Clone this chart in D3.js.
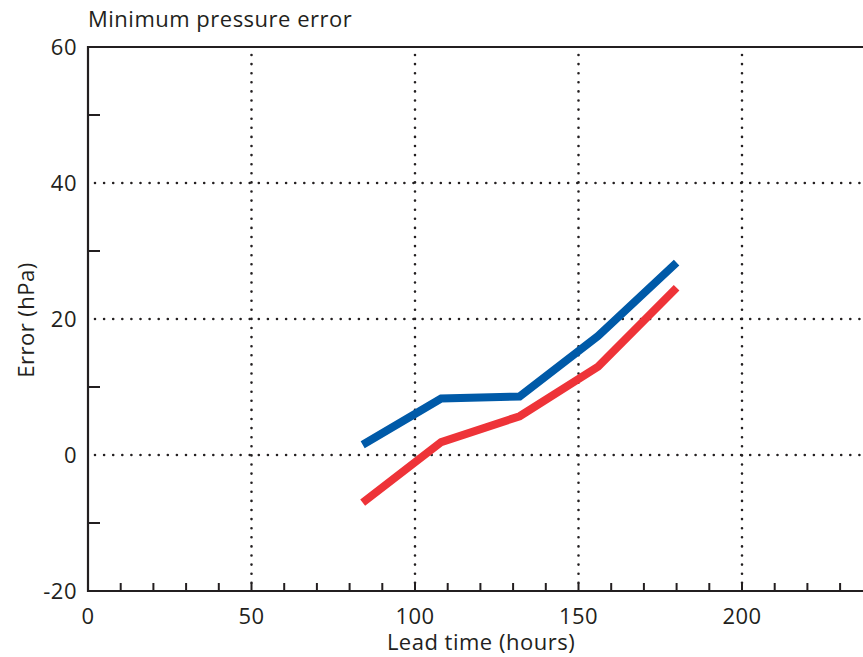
<!DOCTYPE html>
<html>
<head>
<meta charset="utf-8">
<script src="https://cdn.jsdelivr.net/npm/d3@7"></script>
<style>
  body { margin: 0; background: #fff; }
  text { font-family: "Open Sans", "Noto Sans", sans-serif; fill: #231f20; letter-spacing: 0.5px; }
</style>
</head>
<body>
<div id="chart"></div>
<script>
var leadTimes = [84, 108, 132, 156, 180];
var blueErr = [1.5, 8.3, 8.6, 17.5, 28.3];
var redErr = [-7.0, 1.9, 5.7, 13.0, 24.6];
var xTicks = [0, 50, 100, 150, 200];
var yTicks = [-20, 0, 20, 40, 60];

var width = 863, height = 657;
var svg = d3.select("#chart").append("svg")
  .attr("width", width)
  .attr("height", height);

var plotLeft = 88, plotTop = 47, plotBottom = 591;
var x = d3.scaleLinear().domain([0, 240]).range([plotLeft, plotLeft + 240 * 3.27]);
var y = d3.scaleLinear().domain([-20, 60]).range([plotBottom, plotTop]);
var ink = "#231f20";
var fs = 22;

// dotted grid
var grid = svg.append("g");
grid.selectAll("line.vx")
  .data([50, 100, 150, 200])
  .enter().append("line")
  .attr("x1", d => x(d)).attr("x2", d => x(d))
  .attr("y1", plotTop + 8).attr("y2", plotBottom)
  .attr("stroke", ink).attr("stroke-width", 2.6)
  .attr("stroke-linecap", "round")
  .attr("stroke-dasharray", "0,9.1");
grid.selectAll("line.hy")
  .data([0, 20, 40])
  .enter().append("line")
  .attr("x1", plotLeft + 7).attr("x2", width)
  .attr("y1", d => y(d)).attr("y2", d => y(d))
  .attr("stroke", ink).attr("stroke-width", 2.6)
  .attr("stroke-linecap", "round")
  .attr("stroke-dasharray", "0,9.1");

// frame
svg.append("path")
  .attr("d", `M${width},${plotTop}H${plotLeft}V${plotBottom}H${width}`)
  .attr("fill", "none").attr("stroke", ink).attr("stroke-width", 2.2);

// minor ticks
svg.append("g").selectAll("line")
  .data(d3.range(10, 241, 10))
  .enter().append("line")
  .attr("x1", d => x(d)).attr("x2", d => x(d))
  .attr("y1", plotBottom).attr("y2", plotBottom - 8)
  .attr("stroke", ink).attr("stroke-width", 2);
svg.append("g").selectAll("line")
  .data([-10, 10, 30, 50])
  .enter().append("line")
  .attr("x1", plotLeft).attr("x2", plotLeft + 12)
  .attr("y1", d => y(d)).attr("y2", d => y(d))
  .attr("stroke", ink).attr("stroke-width", 2);

// tick labels
svg.append("g").selectAll("text")
  .data(xTicks)
  .enter().append("text")
  .attr("x", d => x(d)).attr("y", 624)
  .attr("text-anchor", "middle")
  .attr("font-size", fs)
  .text(d => d);
svg.append("g").selectAll("text")
  .data(yTicks)
  .enter().append("text")
  .attr("x", 77).attr("y", d => y(d) + 8)
  .attr("text-anchor", "end")
  .attr("font-size", fs)
  .text(d => d);

// titles
svg.append("text")
  .attr("x", 88).attr("y", 27)
  .attr("font-size", fs)
  .text("Minimum pressure error");
svg.append("text")
  .attr("x", 481).attr("y", 650)
  .attr("text-anchor", "middle")
  .attr("font-size", fs)
  .text("Lead time (hours)");
svg.append("text")
  .attr("transform", "translate(34,320) rotate(-90)")
  .attr("text-anchor", "middle")
  .attr("font-size", fs)
  .text("Error (hPa)");

// lines
var line = d3.line()
  .x((d, i) => x(leadTimes[i]))
  .y(d => y(d));
svg.append("path")
  .attr("d", line(redErr))
  .attr("fill", "none").attr("stroke", "#ee3338").attr("stroke-width", 8);
svg.append("path")
  .attr("d", line(blueErr))
  .attr("fill", "none").attr("stroke", "#005aa8").attr("stroke-width", 8);
</script>
</body>
</html>
